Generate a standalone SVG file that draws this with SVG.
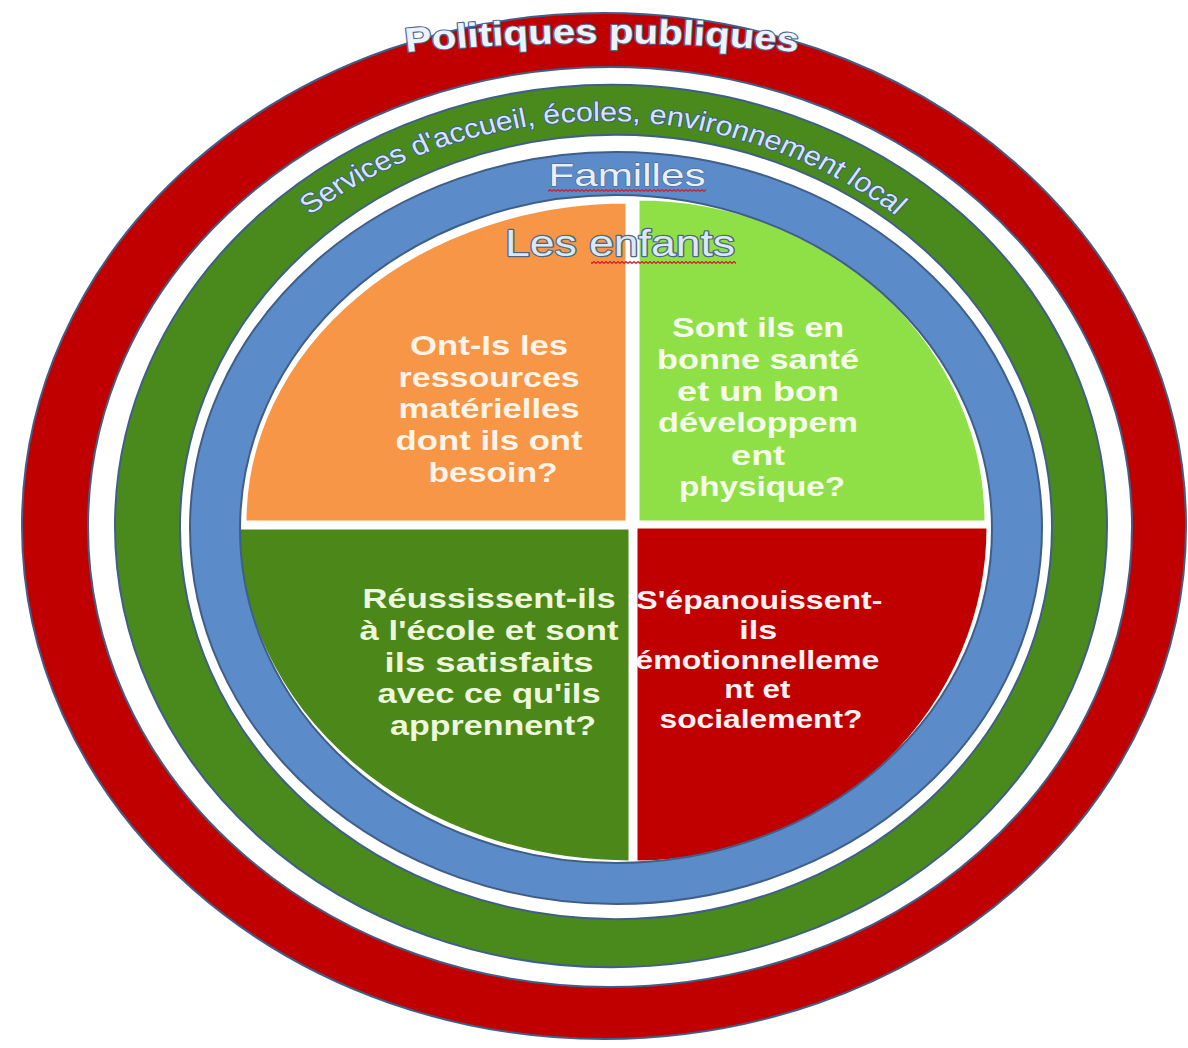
<svg xmlns="http://www.w3.org/2000/svg" width="1188" height="1048" viewBox="0 0 1188 1048">
<defs>
<style>
.ring{stroke:#3f5f88;stroke-width:2;fill-rule:evenodd}
.quad{stroke:#ffffff;stroke-width:3;stroke-linejoin:round}
.q{font-family:"Liberation Sans",Arial,sans-serif;font-weight:bold;font-size:28px;text-anchor:middle}
.lbl{font-family:"Liberation Sans",Arial,sans-serif;text-anchor:middle;paint-order:stroke;stroke-linejoin:round}
</style>
<pattern id="squig" width="4" height="3" patternUnits="userSpaceOnUse">
<path d="M0,2.4 L2,0.6 L4,2.4" fill="none" stroke="#cc2030" stroke-width="1.3"/>
</pattern>
</defs>
<rect width="1188" height="1048" fill="#ffffff"/>

<g id="quadrant-materielles">
<path class="quad" fill="#f79646" d="M627,522 L245,522 A382,320 0 0,1 627,202 Z"/>
<text class="q" fill="#fff4e8">
<tspan x="493" y="355" textLength="158" lengthAdjust="spacingAndGlyphs">Ont-Is les</tspan>
<tspan x="493" y="387" textLength="181" lengthAdjust="spacingAndGlyphs">ressources</tspan>
<tspan x="493" y="418" textLength="181" lengthAdjust="spacingAndGlyphs">matérielles</tspan>
<tspan x="493" y="450" textLength="187" lengthAdjust="spacingAndGlyphs">dont ils ont</tspan>
<tspan x="493" y="482" textLength="129" lengthAdjust="spacingAndGlyphs">besoin?</tspan>
</text>
</g>

<g id="quadrant-sante">
<path class="quad" fill="#8fe046" d="M638,522 L638,199 A348,323 0 0,1 986,522 Z"/>
<text class="q" fill="#f6fcec">
<tspan x="762" y="337" textLength="172" lengthAdjust="spacingAndGlyphs">Sont ils en</tspan>
<tspan x="762" y="369" textLength="202" lengthAdjust="spacingAndGlyphs">bonne santé</tspan>
<tspan x="762" y="401" textLength="162" lengthAdjust="spacingAndGlyphs">et un bon</tspan>
<tspan x="762" y="432" textLength="200" lengthAdjust="spacingAndGlyphs">développem</tspan>
<tspan x="762" y="465" textLength="54" lengthAdjust="spacingAndGlyphs">ent</tspan>
<tspan x="762" y="496" textLength="166" lengthAdjust="spacingAndGlyphs">physique?</tspan>
</text>
</g>

<g id="quadrant-ecole">
<path class="quad" fill="#4b8719" d="M630,528 L630,862 A392,334 0 0,1 238,528 Z"/>
<text class="q" fill="#eef6dc">
<tspan x="493" y="608" textLength="253" lengthAdjust="spacingAndGlyphs">Réussissent-ils</tspan>
<tspan x="493" y="640" textLength="259" lengthAdjust="spacingAndGlyphs">à l'école et sont</tspan>
<tspan x="493" y="672" textLength="209" lengthAdjust="spacingAndGlyphs">ils satisfaits</tspan>
<tspan x="493" y="703" textLength="223" lengthAdjust="spacingAndGlyphs">avec ce qu'ils</tspan>
<tspan x="493" y="735" textLength="206" lengthAdjust="spacingAndGlyphs">apprennent?</tspan>
</text>
</g>

<g id="quadrant-emotion">
<path class="quad" fill="#c00000" d="M636,527 L988,527 A352,335 0 0,1 636,862 Z"/>
<text class="q" fill="#fff2f2" style="font-size:26px">
<tspan x="763" y="609" textLength="246" lengthAdjust="spacingAndGlyphs">S'épanouissent-</tspan>
<tspan x="762" y="639" textLength="38" lengthAdjust="spacingAndGlyphs">ils</tspan>
<tspan x="761" y="669" textLength="244" lengthAdjust="spacingAndGlyphs">émotionnelleme</tspan>
<tspan x="761" y="698" textLength="66" lengthAdjust="spacingAndGlyphs">nt et</tspan>
<tspan x="761" y="728" textLength="203" lengthAdjust="spacingAndGlyphs">socialement?</tspan>
</text>
</g>

<g id="ring-politiques">
<path class="ring" fill="#c00000" d="M22,526 a582,513 0 1,0 1164,0 a582,513 0 1,0 -1164,0 Z M88,527 a522,460 0 1,0 1044,0 a522,460 0 1,0 -1044,0 Z"/>
<g transform="translate(602,0) scale(1.18,1) translate(-602,0)">
<path id="ppArc" d="M410,55 Q602,31 794,55" fill="none"/>
<text class="lbl" font-size="34" font-weight="bold" fill="#eef3fb" stroke="#4a6a96" stroke-width="2.2"><textPath href="#ppArc" startOffset="50%">Politiques publiques</textPath></text>
</g>
</g>

<g id="ring-services">
<path class="ring" fill="#4a8a1d" d="M115,526 a496,441 0 1,0 992,0 a496,441 0 1,0 -992,0 Z M180,527 a436,392 0 1,0 872,0 a436,392 0 1,0 -872,0 Z"/>
<g transform="translate(603,0) scale(1.125,1) translate(-603,0)">
<path id="svcArc" d="M292,266 A406,406 0 0,1 914,266" fill="none"/>
<text class="lbl" font-size="27" fill="#d6e4f6" stroke="#3d5f8c" stroke-width="2"><textPath href="#svcArc" startOffset="50%">Services d'accueil, écoles, environnement local</textPath></text>
</g>
</g>

<g id="ring-familles">
<path class="ring" fill="#5b8bc8" d="M190,528 a426,376 0 1,0 852,0 a426,376 0 1,0 -852,0 Z M240,529 a376,334 0 1,0 752,0 a376,334 0 1,0 -752,0 Z"/>
<text class="lbl" x="627" y="186" font-size="32" fill="#e9f0fa" stroke="#46648e" stroke-width="1" textLength="157" lengthAdjust="spacingAndGlyphs">Familles</text>
<rect x="548" y="189" width="158" height="3" fill="url(#squig)"/>
</g>

<g id="enfants-label">
<text class="lbl" x="620" y="256" font-size="36" fill="#dde8f5" stroke="#4e6684" stroke-width="2.4" textLength="230" lengthAdjust="spacingAndGlyphs">Les enfants</text>
<rect x="591" y="261" width="145" height="3" fill="url(#squig)"/>
</g>

<g id="connectors"/>
</svg>
